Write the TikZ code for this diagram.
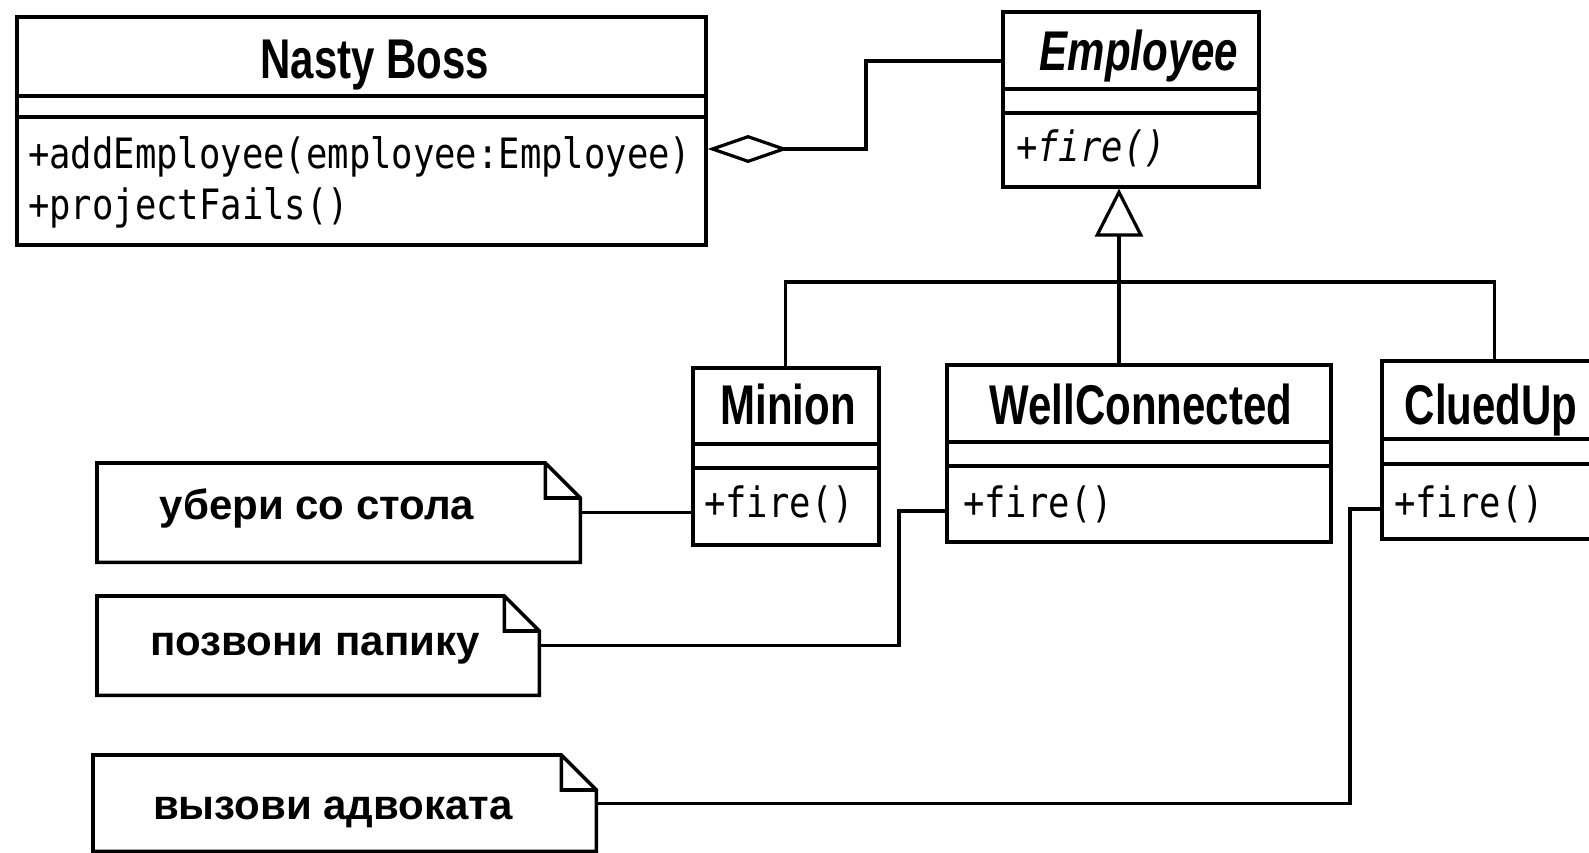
\documentclass[tikz,border=0pt]{standalone}
\usepackage{fontspec}
\setmainfont{Liberation Sans}
\newfontfamily\titlefont[FakeStretch=0.75]{Liberation Sans}
\newfontfamily\codefont[FakeStretch=0.85]{DejaVu Sans Mono}
\usetikzlibrary{arrows.meta}

\tikzset{
  classbox/.style={draw, line width=3.6pt, anchor=north west, inner sep=0pt},
  classname/.style={font=\titlefont\bfseries\fontsize{56}{60}\selectfont, inner sep=0pt, anchor=base},
  abstractname/.style={classname, font=\titlefont\bfseries\itshape\fontsize{56}{60}\selectfont},
  member/.style={font=\codefont\fontsize{41.8}{46}\selectfont, inner sep=0pt, anchor=base west},
  notebox/.style={anchor=north west, inner sep=0pt},
  notetext/.style={font=\bfseries\fontsize{42}{46}\selectfont, inner sep=0pt, anchor=base},
  link/.style={line width=3.2pt},
}

\begin{document}
\begin{tikzpicture}[x=1pt, y=-1pt]
    \fill[white, use as bounding box] (0,0) rectangle (1589,853);

    % class boxes with their two separators
    \foreach \nm/\x/\y/\w/\h/\sa/\sb in {boss/15/15/689/228/96/117,
        employee/1001/10/256/175/89/113, minion/691/366/186/177/444/468,
        wellc/945/363/384/177/442/466, clued/1380/359/226/178/439/464}{
        \node[classbox, minimum width=\w pt, minimum height=\h pt] (\nm) at (\x,\y) {};
        \draw[line width=3.6pt] (\x,\sa) -- ++(\w,0) (\x,\sb) -- ++(\w,0);
    }

    \node[classname] (bossname) at (375,79) {Nasty Boss};
    \node[abstractname] (empname) at (1139,71) {Employee};
    \node[classname] (minionname) at (788,424) {Minion};
    \node[classname] (wellcname) at (1141,424) {WellConnected};
    \node[classname] (cluedname) at (1491,424) {CluedUp};

    \node[member] (addemp) at (28,168) {+addEmployee(employee:Employee)};
    \node[member] (projfails) at (28,219) {+projectFails()};
    \node[member, font=\codefont\itshape\fontsize{41.8}{46}\selectfont] (empfire) at (1016,162) {+fire()};
    \node[member] (minionfire) at (704,517) {+fire()};
    \node[member] (wellcfire) at (963,517) {+fire()};
    \node[member] (cluedfire) at (1394,517) {+fire()};

    % notes
    \node[notebox, minimum width=483pt, minimum height=99pt] (n1) at (97,463) {};
    \node[notebox, minimum width=442pt, minimum height=99pt] (n2) at (97,596) {};
    \node[notebox, minimum width=503pt, minimum height=96pt] (n3) at (93,755) {};
    \foreach \n in {n1,n2,n3}
        \draw[line width=3.6pt, line join=miter] (\n.south west) -- (\n.north west)
            -- ([xshift=-35pt]\n.north east) -- ([yshift=-35pt]\n.north east)
            -- (\n.south east) -- cycle
            ([xshift=-35pt]\n.north east) |- ([yshift=-35pt]\n.north east);

    \node[notetext] (t1) at (317,519) {убери со стола};
    \node[notetext] (t2) at (315,655) {позвони папику};
    \node[notetext] (t3) at (333,819) {вызови адвоката};

    % aggregation and generalisation
    \coordinate (agg) at (866,149);
    \draw[link, {Diamond[open, length=81pt, width=28pt]}-] (boss.east |- agg) -- (agg) |- (employee.west |- 0,61);
    \coordinate (bus) at (1119,282);
    \draw[link, -{Triangle[open, length=48pt, width=48pt]}] (bus) -- (employee.south -| bus);
    \draw[link] (minion.north) |- (clued.north |- bus) -- (clued.north);
    \draw[link] (wellc.north -| bus) -- (bus);

    % note links
    \coordinate (b2) at (899,511);
    \coordinate (b3) at (1350,509);
    \draw[link] (n1.east) -- (minion.west |- n1.east);
    \draw[link] (n2.east) -| (b2) -- (wellc.west |- b2);
    \draw[link] (n3.east) -| (b3) -- (clued.west |- b3);
\end{tikzpicture}
\end{document}
